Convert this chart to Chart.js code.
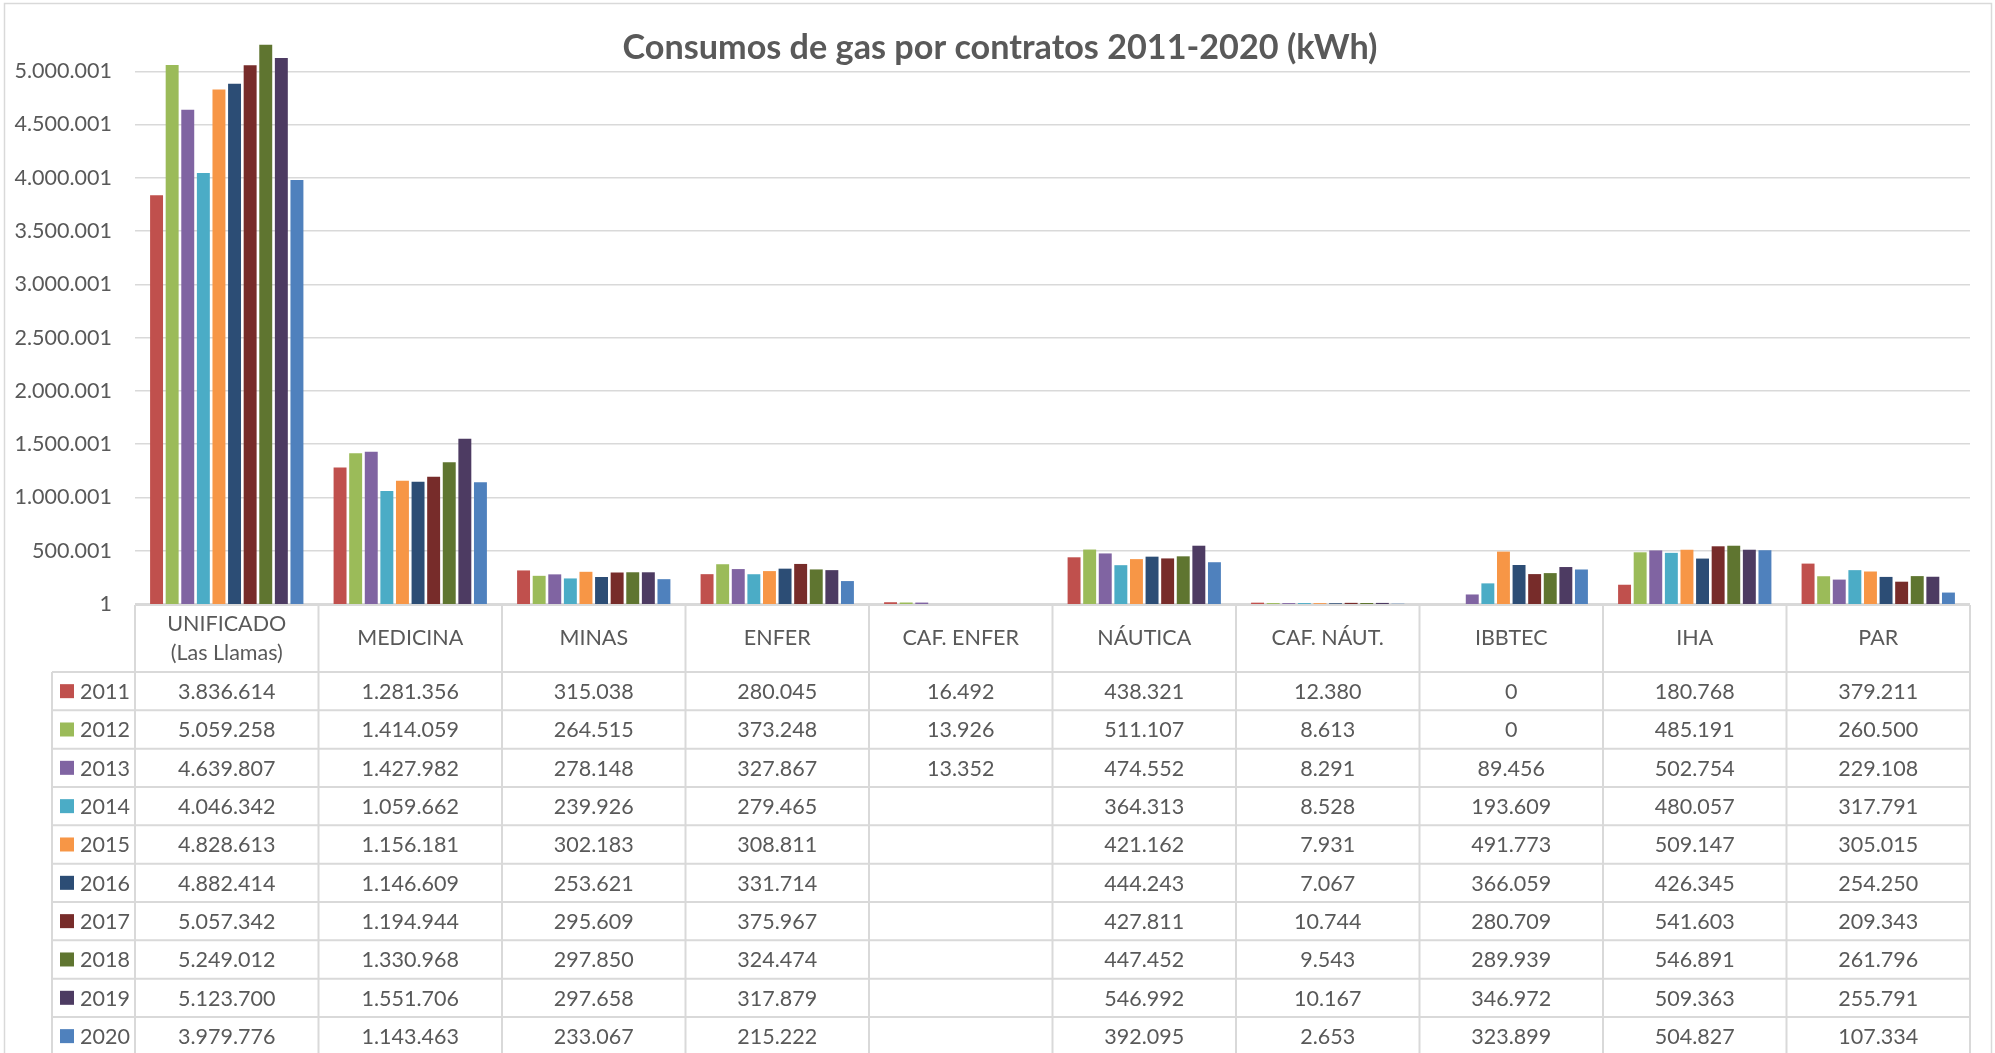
<!DOCTYPE html>
<html lang="es">
<head>
<meta charset="utf-8">
<title>Consumos de gas por contratos 2011-2020 (kWh)</title>
<script src="https://cdn.jsdelivr.net/npm/chart.js@4.4.1/dist/chart.umd.min.js"></script>
<style>
    html, body { margin: 0; padding: 0; background: #fff; }
    #wrap { position: relative; width: 1995px; height: 1053px; overflow: hidden; }
</style>
</head>
<body>
<div id="wrap"><canvas id="gasChart"></canvas></div>
<script>
// Data
const chartTitle = 'Consumos de gas por contratos 2011-2020 (kWh)';
const categories = [['UNIFICADO', '(Las Llamas)'], 'MEDICINA', 'MINAS', 'ENFER', 'CAF. ENFER', 'NÁUTICA', 'CAF. NÁUT.', 'IBBTEC', 'IHA', 'PAR'];
const years = ['2011', '2012', '2013', '2014', '2015', '2016', '2017', '2018', '2019', '2020'];
const colors = ['#C0504D', '#9BBB59', '#8064A2', '#4BACC6', '#F79646', '#2C4D75', '#772C2A', '#5F7530', '#4D3B62', '#4F81BD'];

const v2011 = [3836614, 1281356, 315038, 280045, 16492, 438321, 12380, 0, 180768, 379211];
const v2012 = [5059258, 1414059, 264515, 373248, 13926, 511107, 8613, 0, 485191, 260500];
const v2013 = [4639807, 1427982, 278148, 327867, 13352, 474552, 8291, 89456, 502754, 229108];
const v2014 = [4046342, 1059662, 239926, 279465, null, 364313, 8528, 193609, 480057, 317791];
const v2015 = [4828613, 1156181, 302183, 308811, null, 421162, 7931, 491773, 509147, 305015];
const v2016 = [4882414, 1146609, 253621, 331714, null, 444243, 7067, 366059, 426345, 254250];
const v2017 = [5057342, 1194944, 295609, 375967, null, 427811, 10744, 280709, 541603, 209343];
const v2018 = [5249012, 1330968, 297850, 324474, null, 447452, 9543, 289939, 546891, 261796];
const v2019 = [5123700, 1551706, 297658, 317879, null, 546992, 10167, 346972, 509363, 255791];
const v2020 = [3979776, 1143463, 233067, 215222, null, 392095, 2653, 323899, 504827, 107334];
const series = [v2011, v2012, v2013, v2014, v2015, v2016, v2017, v2018, v2019, v2020];

const yTicks = [1, 500001, 1000001, 1500001, 2000001, 2500001, 3000001, 3500001, 4000001, 4500001, 5000001];
const yMin = 1;
const yMax = 5500001;

const textColor = '#595959';
const lineColor = '#D9D9D9';
const textSize = 21.5;

// 1.234.567 style, also for 4-digit numbers
const fmt = (v) => String(v).replace(/\B(?=(\d{3})+(?!\d))/g, '.');

// Data table under the plot, title and outer frame
const tablePlugin = {
    id: 'dataTable',
    afterDraw(chart) {
        const ctx = chart.ctx;
        const xs = chart.scales.x;
        const colW = (xs.right - xs.left) / categories.length;
        const headTop = chart.chartArea.bottom + 1;
        const headBottom = headTop + 67;
        const rowH = 38.33;
        const tableLeft = 52;
        const tableBottom = headBottom + rowH * years.length;

        ctx.save();

        // cell values + legend keys
        ctx.font = textSize + 'px Lato';
        ctx.textBaseline = 'middle';
        years.forEach((yr, r) => {
            const cy = headBottom + rowH * (r + 0.5);
            ctx.fillStyle = textColor;
            ctx.textAlign = 'center';
            series[r].forEach((v, c) => {
                if (v === null) return;
                ctx.fillText(fmt(v), xs.left + colW * (c + 0.5), cy + 1);
            });
            ctx.textAlign = 'left';
            ctx.fillText(yr, 80, cy + 1);
            ctx.fillStyle = colors[r];
            ctx.fillRect(60, cy - 7, 14, 14);
        });

        // grid of the table
        ctx.strokeStyle = lineColor;
        ctx.lineWidth = 2;
        ctx.beginPath();
        ctx.moveTo(xs.left, headTop);
        ctx.lineTo(xs.right, headTop);
        for (let r = 0; r <= years.length; r++) {
            const y = headBottom + rowH * r;
            ctx.moveTo(tableLeft, y);
            ctx.lineTo(xs.right, y);
        }
        for (let c = 0; c <= categories.length; c++) {
            const lx = xs.left + colW * c;
            ctx.moveTo(lx, headTop);
            ctx.lineTo(lx, tableBottom);
        }
        ctx.moveTo(tableLeft, headBottom);
        ctx.lineTo(tableLeft, tableBottom);
        ctx.stroke();

        // outer frame
        ctx.lineWidth = 1.5;
        ctx.strokeRect(4.5, 3.5, 1987, 1100);

        // title
        ctx.font = 'bold 34.2px Lato';
        ctx.fillStyle = textColor;
        ctx.textAlign = 'center';
        ctx.textBaseline = 'middle';
        ctx.fillText(chartTitle, 1000, 48);

        ctx.restore();
    }
};

document.addEventListener('DOMContentLoaded', () => {
    Chart.defaults.font.family = 'Lato';
    Chart.defaults.color = textColor;

    const ctx = document.getElementById('gasChart').getContext('2d');
    new Chart(ctx, {
        type: 'bar',
        data: {
            labels: categories,
            datasets: years.map((yr, i) => ({
                label: yr,
                data: series[i],
                backgroundColor: colors[i],
                borderWidth: 0,
                categoryPercentage: 0.85,
                barPercentage: 0.83
            }))
        },
        options: {
            responsive: true,
            maintainAspectRatio: false,
            animation: false,
            layout: { padding: { top: 18, right: 25, left: 0, bottom: 0 } },
            plugins: {
                legend: { display: false },
                title: { display: false },
                tooltip: { enabled: false }
            },
            scales: {
                x: {
                    grid: { display: false, drawTicks: false },
                    border: { display: false },
                    ticks: {
                        color: textColor,
                        font: { size: textSize, lineHeight: 1.335 },
                        padding: 20,
                        crossAlign: 'center',
                        autoSkip: false,
                        maxRotation: 0
                    },
                    afterFit: (axis) => { axis.height = 449; }
                },
                y: {
                    min: yMin,
                    max: yMax,
                    grid: { color: lineColor, lineWidth: 1.5, drawTicks: false },
                    border: { display: false },
                    ticks: {
                        color: textColor,
                        font: { size: textSize },
                        padding: 23,
                        callback: (v) => fmt(v)
                    },
                    afterBuildTicks: (axis) => { axis.ticks = yTicks.map(v => ({ value: v })); },
                    afterFit: (axis) => {
                        axis.width = 135;
                        axis.paddingTop = 0;
                        axis.paddingBottom = 0;
                    }
                }
            }
        },
        plugins: [tablePlugin]
    });
});
</script>
</body>
</html>
